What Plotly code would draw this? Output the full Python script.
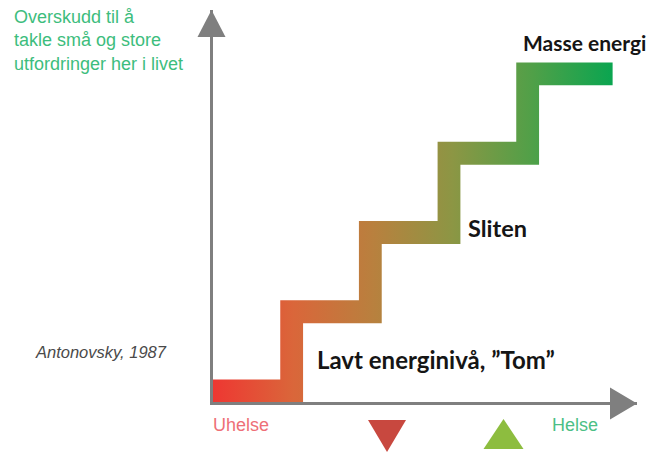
import plotly.graph_objects as go

# ---- data ----
levels = [1, 2, 3, 4, 5]                 # energy level of each step
step_edges = [0, 1, 2, 3, 4, 5.08]       # x edges of the steps (health axis)
step_labels = ["Lavt energinivå, \u201dTom\u201d", "Sliten", "Masse energi"]
y_title_lines = ["Overskudd til å", "takle små og store", "utfordringer her i livet"]
x_left_label = "Uhelse"
x_right_label = "Helse"
source_label = "Antonovsky, 1987"

# ---- style / layout constants (page pixels; the page body adds an 8px margin) ----
OFF = 8
W, H = 661 - OFF, 453 - OFF
L_PX, R_PX, T_PX, B_PX = 213, 637, 10, 402
XR = [0, 5.39]
YR = [0.86, 5.806]
HALF = 0.145  # half thickness of the stair band (data units)
AX_COL = "#7f7f7f"

def paper_x(p):
    return (p - L_PX) / (R_PX - L_PX)

def paper_y(p):
    return (B_PX - p) / (B_PX - T_PX)

# ---- stair band polygon built from the data ----
px_, py_ = [step_edges[0]], [levels[0] + HALF]
for i in range(1, len(levels)):
    px_ += [step_edges[i] - HALF, step_edges[i] - HALF]
    py_ += [levels[i - 1] + HALF, levels[i] + HALF]
px_.append(step_edges[-1]); py_.append(levels[-1] + HALF)
px_.append(step_edges[-1]); py_.append(levels[-1] - HALF)
for i in range(len(levels) - 1, 0, -1):
    px_ += [step_edges[i] + HALF, step_edges[i] + HALF]
    py_ += [levels[i] - HALF, levels[i - 1] - HALF]
px_.append(step_edges[0]); py_.append(levels[0] - HALF)
px_.append(step_edges[0]); py_.append(levels[0] + HALF)

fig = go.Figure()
fig.add_trace(go.Scatter(
    x=px_, y=py_, mode="lines", fill="toself",
    line=dict(width=0),
    fillgradient=dict(
        type="horizontal",
        colorscale=[[0.0, "#ee3732"], [0.2, "#da663a"], [0.4, "#b9803e"],
                    [0.6, "#8c9644"], [0.8, "#50a048"], [1.0, "#0aa550"]],
    ),
    hoverinfo="skip", showlegend=False,
))

annotations = []
def add_text(text, x, y, size, color, family="Liberation Sans, Arial", bold=False,
             italic=False, xanchor="left", align="left"):
    t = text
    if bold:
        t = "<b>" + t + "</b>"
    if italic:
        t = "<i>" + t + "</i>"
    annotations.append(dict(
        text=t, xref="paper", yref="paper", x=paper_x(x), y=paper_y(y),
        xanchor=xanchor, yanchor="middle", showarrow=False, align=align,
        font=dict(family=family, size=size, color=color),
    ))

add_text("<br>".join(y_title_lines), 12, 40, 18, "#3dbd7d")
add_text(step_labels[2], 521, 43, 21, "#151515", family="Lato", bold=True)
add_text(step_labels[1], 466, 228, 23.5, "#151515", family="Lato", bold=True)
add_text(step_labels[0], 315, 359, 24, "#151515", family="Lato", bold=True)
add_text(source_label, 33, 352, 16.5, "#4a4a4a", italic=True)
add_text(x_left_label, 211, 425, 18, "#ee6f77")
add_text(x_right_label, 550, 425, 18, "#4cbf86")

shapes = []
def add_path(ax, ay, path, color):
    shapes.append(dict(
        type="path", xref="paper", yref="paper",
        xsizemode="pixel", ysizemode="pixel",
        xanchor=paper_x(ax), yanchor=paper_y(ay),
        path=path, fillcolor=color, line=dict(width=0), layer="above",
    ))

# axis arrowheads
add_path(637, 403.5, "M-27,16 L0,0 L-27,-16 Z", AX_COL)
add_path(211.5, 10, "M-14,-27 L0,0 L14,-27 Z", AX_COL)
# down / up triangles
add_path(387, 420, "M-19,0 L19,0 L0,-32 Z", "#c8483f")
add_path(503.5, 449, "M-20,0 L20,0 L0,30 Z", "#8dbd3f")

fig.update_layout(
    width=W, height=H,
    margin=dict(l=L_PX - OFF, r=OFF + W - R_PX, t=T_PX - OFF, b=453 - B_PX, pad=0),
    paper_bgcolor="white", plot_bgcolor="white",
    xaxis=dict(range=XR, showgrid=False, zeroline=False, showticklabels=False,
               ticks="", showline=True, linecolor=AX_COL, linewidth=3, fixedrange=True),
    yaxis=dict(range=YR, showgrid=False, zeroline=False, showticklabels=False,
               ticks="", showline=True, linecolor=AX_COL, linewidth=3, fixedrange=True),
    annotations=annotations, shapes=shapes,
    showlegend=False,
)

fig.write_html("out.html")
